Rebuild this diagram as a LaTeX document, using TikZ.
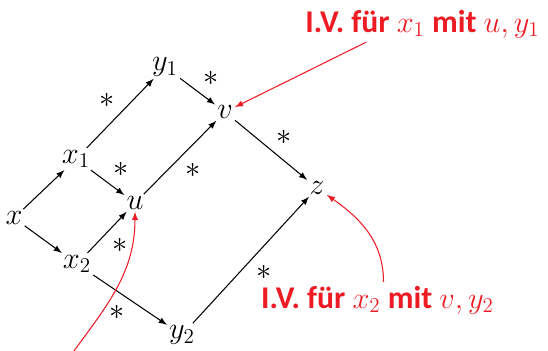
\documentclass[tikz,border=0pt]{standalone}
\usepackage{fontspec}
\setmainfont{Carlito}
\usepackage{amsmath,amssymb}
\definecolor{ivred}{RGB}{237,28,36}

\begin{document}
\begin{tikzpicture}[
        var/.style={inner sep=1pt, font=\LARGE},
        ast/.style={inner sep=3pt, font=\LARGE},
        iv/.style={text=ivred, inner sep=2pt, font=\fontsize{18}{20}\selectfont\bfseries},
        ivarrow/.style={draw=ivred, line width=0.6pt, -latex},
        line width=0.6pt]
        \useasboundingbox (0,0) rectangle (10.96,7);

            \node[var] (x) at (0.28,2.64) {\(x\)};
            \node[var] (x1) at (1.52,3.82) {\(x_1\)};
            \node[var] (x2) at (1.54,1.72) {\(x_2\)};
            \node[var] (u) at (2.70,2.94) {\(u\)};
            \node[var] (y1) at (3.30,5.66) {\(y_1\)};
            \node[var] (v) at (4.50,4.76) {\(v\)};
            \node[var] (z) at (6.34,3.24) {\(z\)};
            \node[var] (y2) at (3.64,0.30) {\(y_2\)};

            \node[iv] (ivone) at (8.45,6.52) {I.V. für \(x_1\) mit \(u, y_1\)};
            \node[iv] (ivtwo) at (7.55,1.00) {I.V. für \(x_2\) mit \(v, y_2\)};
            \coordinate (ivu) at (1.28,-0.3);

            \draw[-latex] (x) -- (x1);
            \draw[-latex] (x) -- (x2);
            \draw[-latex] (x1) -- node[ast, above left] (s1) {\(*\)} (y1);
            \draw[-latex] (x1) -- node[ast, above right] (s2) {\(*\)} (u);
            \draw[-latex] (x2) -- node[ast, below right] (s3) {\(*\)} (u);
            \draw[-latex] (x2) -- node[ast, below left] (s4) {\(*\)} (y2);
            \draw[-latex] (y1) -- node[ast, above right] (s5) {\(*\)} (v);
            \draw[-latex] (u) -- node[ast, below right] (s6) {\(*\)} (v);
            \draw[-latex] (v) -- node[ast, above right] (s7) {\(*\)} (z);
            \draw[-latex] (y2) -- node[ast, below right] (s8) {\(*\)} (z);

            \draw[ivarrow] ([xshift=1.3cm]ivone.south west) -- (v);
            \draw[ivarrow] ([xshift=0.12cm]ivtwo.north) to[out=90, in=-35] (z);
            \draw[ivarrow] (ivu) to[out=55, in=-90] (u);

\end{tikzpicture}
\end{document}
